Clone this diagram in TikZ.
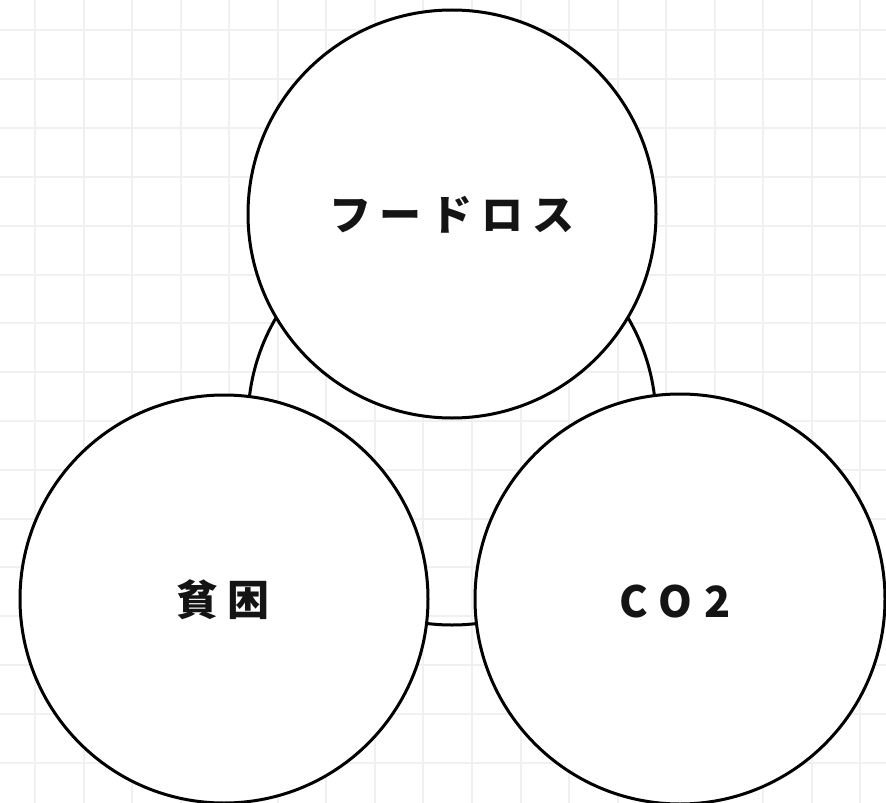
\documentclass[tikz,border=0pt]{standalone}
\usepackage{fontspec}
\newfontfamily\jp{Noto Sans CJK JP}
\newcommand\lsp{\hspace{9bp}}
\begin{document}
\begin{tikzpicture}[x=1bp,y=-1bp,
  gridline/.style={draw=black!6,line width=2bp},
  ring/.style={draw=black,line width=3bp,fill=white},
  backring/.style={draw=black,line width=3bp},
  label/.style={font=\jp\bfseries\fontsize{42bp}{48bp}\selectfont,text=black!92,inner sep=0pt}]
\clip (0,0) rectangle (886,803);
\fill[white] (0,0) rectangle (886,803);
\foreach \i in {0,...,18} {\draw[gridline] ({35+48.55*\i},0) -- ({35+48.55*\i},803);}
\foreach \j in {0,...,16} {\draw[gridline] (0,{30.5+48.8*\j}) -- (886,{30.5+48.8*\j});}
\draw[backring] (452,421) circle (204);
\draw[ring] (452,214) circle (204);
\draw[ring] (224,599) circle (204);
\draw[ring] (680,599) circle (205);
\node[label] (food) at (452,215) {フ\lsp ー\lsp ド\lsp ロ\lsp ス};
\node[label] (poverty) at (223,600) {貧\lsp 困};
\node[label,font=\jp\bfseries\fontsize{43bp}{48bp}\selectfont] (co2) at (675,601) {C\hspace{10bp}O\hspace{12bp}2};
\end{tikzpicture}
\end{document}
